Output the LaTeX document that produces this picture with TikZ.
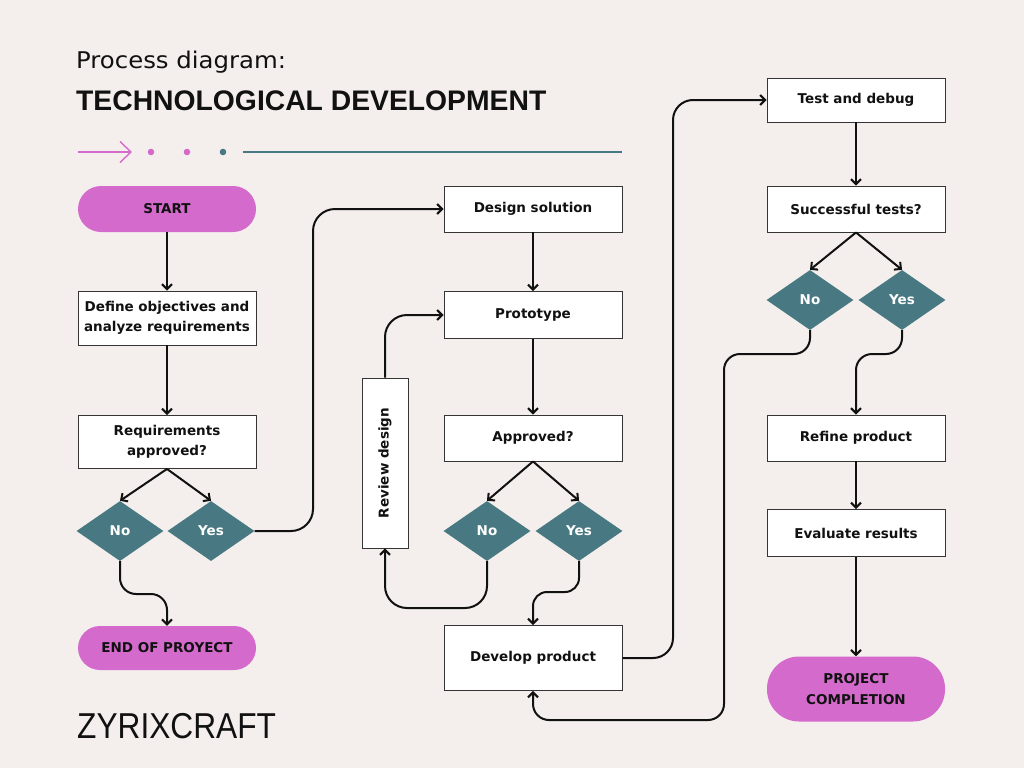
\documentclass[tikz,border=0pt]{standalone}
\usepackage{fontspec}
\setmainfont{DejaVu Sans}
\newfontfamily\boxfont{DejaVu Sans}
\newfontfamily\titlefont{Liberation Sans}
\usetikzlibrary{shapes.geometric,arrows.meta}
\definecolor{bgc}{HTML}{F4EFEC}
\definecolor{pinkc}{HTML}{D56ACD}
\definecolor{tealc}{HTML}{487882}
\definecolor{inkc}{HTML}{111111}
\begin{document}
\begin{tikzpicture}[x=1pt,y=-1pt,
  stepbox/.style={draw=inkc!85, line width=0.9pt, fill=white, minimum width=178pt, inner sep=0pt,
    align=center, text=inkc, font=\boxfont\bfseries\fontsize{13.5}{20}\selectfont},
  pill/.style={fill=pinkc, minimum width=178pt, inner sep=0pt, align=center, text=inkc,
    font=\boxfont\bfseries\fontsize{13.5}{21}\selectfont},
  choice/.style={shape=diamond, fill=tealc, minimum width=87pt, minimum height=60pt, inner sep=0pt,
    text=white, font=\boxfont\bfseries\fontsize{13.5}{16}\selectfont},
  conn/.style={line width=2pt, draw=inkc, -{Straight Barb[length=5pt,width=10pt,line width=2pt]}},
  curvy/.style={conn, rounded corners=#1},
]
\useasboundingbox[fill=bgc] (0,0) rectangle (1024,768);

% titles
\node[anchor=west, inner sep=0pt, text=inkc] (t1) at (76,62) {\fontsize{23}{26}\selectfont\scalebox{1.06}[1]{Process diagram:}};
\node[anchor=west, inner sep=0pt, text=inkc] (t2) at (76,101) {\titlefont\bfseries\fontsize{28.3}{30}\selectfont TECHNOLOGICAL DEVELOPMENT};
\node[anchor=west, inner sep=0pt, text=inkc] (brand) at (77,726) {\titlefont\fontsize{36}{40}\selectfont\scalebox{0.88}[1]{ZYRIXCRAFT}};

% decoration
\coordinate (da) at (78,152);
\coordinate (db) at (132,152);
\draw[pinkc, line width=1.4pt, -{Straight Barb[length=11pt,width=21pt,line width=1.4pt]}] (da) -- (db);
\fill[pinkc] (151,152) circle (3.3pt);
\fill[pinkc] (187,152) circle (3.3pt);
\fill[tealc] (223,152) circle (3.3pt);
\coordinate (la) at (243,152);
\coordinate (lb) at (622,152);
\draw[tealc, line width=2.2pt] (la) -- (lb);

% left column
\node[pill, minimum height=46pt, rounded corners=23pt] (start) at (167,209) {START};
\node[stepbox, minimum height=54pt] (define) at (167,318) {Define objectives and\\analyze requirements};
\node[stepbox, minimum height=53pt] (reqapp) at (167,442) {Requirements\\approved?};
\node[choice] (no1) at (120,531) {No};
\node[choice] (yes1) at (211,531) {Yes};
\node[pill, minimum height=44pt, rounded corners=22pt] (endp) at (167,648) {END OF PROYECT};

% middle column
\node[stepbox, minimum height=46pt] (design) at (533,209) {Design solution};
\node[stepbox, minimum height=47pt] (proto) at (533,315) {Prototype};
\node[stepbox, minimum height=46pt] (approved) at (533,438) {Approved?};
\node[choice] (no2) at (487,531) {No};
\node[choice] (yes2) at (579,531) {Yes};
\node[stepbox, minimum width=46pt, minimum height=170pt] (review) at (385,463) {};
\node[rotate=90, inner sep=0pt, text=inkc, font=\boxfont\bfseries\fontsize{13.5}{16}\selectfont] (reviewtxt) at (review.center) {Review design};
\node[stepbox, minimum height=65pt] (develop) at (533,658) {Develop product};

% right column
\node[stepbox, minimum height=44pt] (test) at (856,100) {Test and debug};
\node[stepbox, minimum height=46pt] (succ) at (856,209) {Successful tests?};
\node[choice] (no3) at (810,300) {No};
\node[choice] (yes3) at (902,300) {Yes};
\node[stepbox, minimum height=46pt] (refine) at (856,438) {Refine product};
\node[stepbox, minimum height=47pt] (eval) at (856,533) {Evaluate results};
\node[pill, minimum height=65pt, rounded corners=32pt] (complete) at (856,689) {PROJECT\\COMPLETION};

% connectors left
\draw[conn] (start) -- (define);
\draw[conn] (define) -- (reqapp);
\draw[conn] (reqapp.south) -- (no1.north);
\draw[conn] (reqapp.south) -- (yes1.north);
\draw[curvy=16pt] (no1.south) -- (120,594) -- (167,594) -- (endp.north);
\draw[curvy=22pt] (yes1.east) -- (313,531) -- (313,209) -- (design.west);

% connectors middle
\draw[conn] (design) -- (proto);
\draw[conn] (proto) -- (approved);
\draw[conn] (approved.south) -- (no2.north);
\draw[conn] (approved.south) -- (yes2.north);
\draw[curvy=22pt] (no2.south) -- (487,608) -- (385,608) -- (review.south);
\draw[curvy=22pt] (review.north) -- (385,315) -- (proto.west);
\draw[curvy=14pt] (yes2.south) -- (579,592) -- (533,592) -- (develop.north);
\draw[curvy=20pt] (develop.east) -- (673,658) -- (673,100) -- (test.west);

% connectors right
\draw[conn] (test) -- (succ);
\draw[conn] (succ.south) -- (no3.north);
\draw[conn] (succ.south) -- (yes3.north);
\draw[curvy=16pt] (no3.south) -- (810,354) -- (724,354) -- (724,720) -- (533,720) -- (develop.south);
\draw[curvy=16pt] (yes3.south) -- (902,354) -- (856,354) -- (refine.north);
\draw[conn] (refine) -- (eval);
\draw[conn] (eval) -- (complete);
\end{tikzpicture}
\end{document}
